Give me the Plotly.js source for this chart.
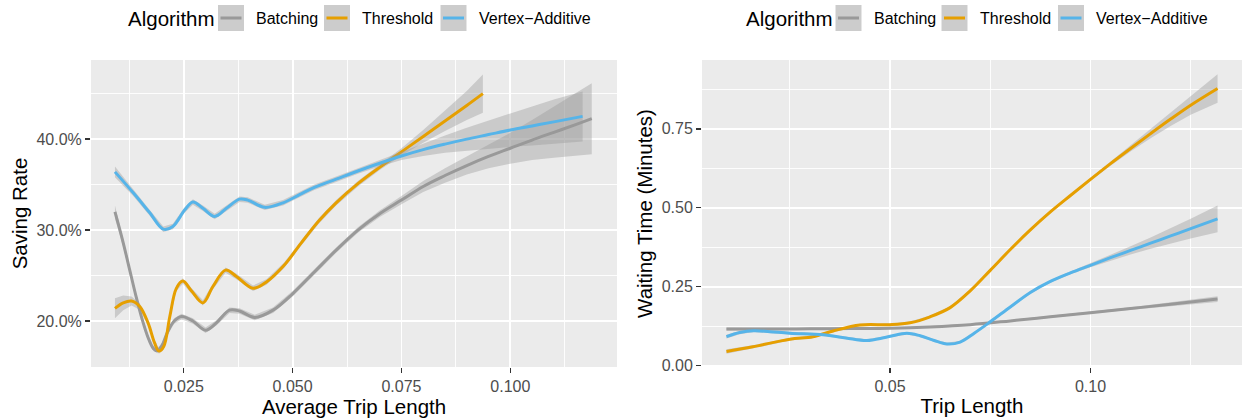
<!DOCTYPE html>
<html>
<head>
<meta charset="utf-8">
<script src="https://cdn.plot.ly/plotly-3.0.1.min.js"></script>
<style>html,body{margin:0;padding:0;background:#fff;}#chart{width:1243px;height:418px;}</style>
</head>
<body>
<div id="chart"></div>
<script>
// ---------- DATA ----------
const categories = ["Batching", "Threshold", "Vertex\u2212Additive"];
const legendTitle = "Algorithm";

// Left panel: Saving Rate (%) vs Average Trip Length
const batchL_x = [0.0092,0.0110,0.0125,0.0140,0.0155,0.0168,0.0180,0.0190,0.0200,0.0212,0.0228,0.0245,0.0271,0.0300,0.0325,0.0355,0.0378,0.0413,0.0455,0.0500,0.0550,0.0600,0.0650,0.0700,0.0750,0.0800,0.0850,0.0900,0.0950,0.1000,0.1050,0.1100,0.1150,0.1187];
const batchL_y = [32.0,28.8,25.8,22.8,20.1,18.2,17.0,16.75,17.3,18.7,20.0,20.5,20.0,19.0,19.8,21.2,21.1,20.4,21.2,23.0,25.4,27.8,30.0,31.8,33.3,34.8,36.0,37.1,38.1,39.0,39.9,40.75,41.6,42.25];
const batchL_se = [0.7,0.5,0.4,0.35,0.3,0.3,0.3,0.3,0.3,0.3,0.3,0.3,0.3,0.3,0.3,0.3,0.3,0.3,0.3,0.3,0.3,0.3,0.3,0.35,0.45,0.6,0.8,1.0,1.3,1.7,2.2,2.8,3.4,3.9];

const threshL_x = [0.0092,0.0111,0.0130,0.0149,0.0168,0.0183,0.0193,0.0204,0.0218,0.0233,0.0248,0.0268,0.0294,0.0317,0.0346,0.0371,0.0409,0.0440,0.0480,0.0520,0.0560,0.0600,0.0650,0.0700,0.0750,0.0800,0.0850,0.0900,0.0937];
const threshL_y = [21.4,22.0,22.2,21.6,19.8,17.6,16.7,17.2,20.5,23.6,24.4,23.3,22.0,23.8,25.6,24.9,23.6,24.3,26.1,28.6,31.0,33.0,35.1,36.9,38.6,40.3,42.0,43.7,45.0];
const threshL_se = [1.1,0.8,0.5,0.35,0.3,0.3,0.3,0.3,0.3,0.3,0.3,0.3,0.3,0.3,0.3,0.3,0.3,0.3,0.3,0.3,0.3,0.3,0.3,0.3,0.4,0.7,1.1,1.6,2.1];

const vertexL_x = [0.0092,0.0134,0.0172,0.0203,0.0225,0.0252,0.0271,0.0294,0.0321,0.0348,0.0378,0.0397,0.0436,0.0478,0.0516,0.0550,0.0600,0.0650,0.0700,0.0750,0.0800,0.0850,0.0900,0.0950,0.1000,0.1050,0.1100,0.1166];
const vertexL_y = [36.4,34.1,31.9,30.1,30.4,32.2,33.1,32.4,31.5,32.4,33.4,33.3,32.5,33.0,33.9,34.7,35.6,36.5,37.35,38.15,38.85,39.45,40.0,40.5,41.0,41.45,41.9,42.5];
const vertexL_se = [0.6,0.35,0.3,0.3,0.3,0.3,0.3,0.3,0.3,0.3,0.3,0.3,0.3,0.3,0.3,0.3,0.3,0.3,0.35,0.45,0.7,0.95,1.25,1.55,1.85,2.15,2.45,2.75];

// Right panel: Waiting Time (Minutes) vs Trip Length
const batchR_x = [0.0092,0.0200,0.0300,0.0400,0.0500,0.0600,0.0700,0.0800,0.0900,0.1000,0.1100,0.1200,0.1317];
const batchR_y = [0.116,0.116,0.117,0.118,0.119,0.123,0.130,0.142,0.155,0.168,0.181,0.195,0.211];
const batchR_se = [0.005,0.004,0.003,0.003,0.003,0.003,0.003,0.003,0.003,0.003,0.004,0.006,0.009];

const threshR_x = [0.0092,0.0158,0.0250,0.0308,0.0358,0.0425,0.0500,0.0550,0.0600,0.0650,0.0700,0.0750,0.0800,0.0850,0.0900,0.0950,0.1000,0.1050,0.1100,0.1150,0.1200,0.1250,0.1317];
const threshR_y = [0.045,0.060,0.084,0.092,0.110,0.129,0.130,0.136,0.155,0.184,0.237,0.302,0.368,0.430,0.487,0.539,0.590,0.640,0.688,0.735,0.781,0.825,0.878];
const threshR_se = [0.007,0.005,0.004,0.004,0.004,0.004,0.004,0.004,0.004,0.004,0.004,0.004,0.004,0.004,0.004,0.004,0.005,0.007,0.010,0.015,0.022,0.030,0.045];

const vertexR_x = [0.0092,0.0125,0.0160,0.0200,0.0250,0.0333,0.0390,0.0442,0.0490,0.0542,0.0575,0.0610,0.0642,0.0675,0.0710,0.0750,0.0800,0.0850,0.0900,0.0950,0.1000,0.1050,0.1100,0.1150,0.1200,0.1250,0.1317];
const vertexR_y = [0.092,0.105,0.111,0.108,0.103,0.098,0.088,0.080,0.090,0.103,0.095,0.080,0.069,0.075,0.103,0.139,0.186,0.232,0.267,0.294,0.318,0.342,0.365,0.388,0.411,0.434,0.465];
const vertexR_se = [0.006,0.005,0.004,0.004,0.004,0.004,0.004,0.004,0.004,0.004,0.004,0.004,0.004,0.004,0.004,0.004,0.004,0.004,0.004,0.004,0.006,0.009,0.013,0.018,0.024,0.031,0.042];

const leftTicks = [0.025, 0.050, 0.075, 0.100];
const leftTickText = ["0.025", "0.050", "0.075", "0.100"];
const leftYTicks = [20, 30, 40];
const leftYTickText = ["20.0%", "30.0%", "40.0%"];
const rightTicks = [0.05, 0.10];
const rightTickText = ["0.05", "0.10"];
const rightYTicks = [0, 0.25, 0.5, 0.75];
const rightYTickText = ["0.00", "0.25", "0.50", "0.75"];

// ---------- STYLE ----------
const colors = ["#999999", "#E69F00", "#56B4E9"];
const ribbonColor = "rgba(153,153,153,0.4)";
const FONT = "'Liberation Sans', Arial, Helvetica, sans-serif";
const W = 1243, H = 418;

const panels = [
  {xa: "x", ya: "y", series: [[batchL_x, batchL_y, batchL_se], [threshL_x, threshL_y, threshL_se], [vertexL_x, vertexL_y, vertexL_se]]},
  {xa: "x2", ya: "y2", series: [[batchR_x, batchR_y, batchR_se], [threshR_x, threshR_y, threshR_se], [vertexR_x, vertexR_y, vertexR_se]]}
];

const traces = [];
panels.forEach(p => {
  p.series.forEach((s, i) => {
    const [xs, ys, se] = s;
    const up = ys.map((v, k) => v + se[k]);
    const lo = ys.map((v, k) => v - se[k]);
    traces.push({
      type: "scatter", mode: "lines", xaxis: p.xa, yaxis: p.ya,
      x: xs.concat(xs.slice().reverse()),
      y: up.concat(lo.slice().reverse()),
      fill: "toself", fillcolor: ribbonColor,
      line: {width: 0, color: ribbonColor}, hoverinfo: "skip", showlegend: false
    });
    traces.push({
      type: "scatter", mode: "lines", xaxis: p.xa, yaxis: p.ya,
      x: xs, y: ys, name: categories[i],
      line: {color: colors[i], width: 3, shape: "spline", smoothing: 1},
      showlegend: false
    });
  });
});

const yDom = [1 - 367 / H, 1 - 60 / H];
const common = {
  showgrid: true, gridcolor: "#FFFFFF", gridwidth: 1.8, zeroline: false, showline: false,
  ticks: "outside", ticklen: 5, tickwidth: 1.3, tickcolor: "#333333",
  tickfont: {family: FONT, size: 16, color: "#4D4D4D"},
  fixedrange: true
};
const titleFont = {family: FONT, size: 20.5, color: "#000000"};

const layout = {
  width: W, height: H,
  margin: {l: 0, r: 0, t: 0, b: 0},
  paper_bgcolor: "#FFFFFF", plot_bgcolor: "#EBEBEB",
  showlegend: false, hovermode: false,
  xaxis: Object.assign({}, common, {
    domain: [91 / W, 617 / W], range: [0.0037, 0.1245], anchor: "y",
    tickmode: "array", tickvals: leftTicks, ticktext: leftTickText,
    minor: {dtick: 0.0125, tick0: 0, showgrid: true, gridcolor: "#FFFFFF", gridwidth: 0.9, ticks: ""},
    title: {text: "Average Trip Length", font: titleFont, standoff: 4}
  }),
  yaxis: Object.assign({}, common, {
    domain: yDom, range: [14.95, 48.7], anchor: "x",
    tickmode: "array", tickvals: leftYTicks, ticktext: leftYTickText,
    minor: {dtick: 5, tick0: 0, showgrid: true, gridcolor: "#FFFFFF", gridwidth: 0.9, ticks: ""},
    title: {text: "Saving Rate", font: titleFont, standoff: 3}
  }),
  xaxis2: Object.assign({}, common, {
    domain: [702 / W, 1242 / W], range: [0.0031, 0.1378], anchor: "y2",
    tickmode: "array", tickvals: rightTicks, ticktext: rightTickText,
    minor: {dtick: 0.025, tick0: 0, showgrid: true, gridcolor: "#FFFFFF", gridwidth: 0.9, ticks: ""},
    title: {text: "Trip Length", font: titleFont, standoff: 4}
  }),
  yaxis2: Object.assign({}, common, {
    domain: yDom, range: [-0.004, 0.968], anchor: "x2",
    tickmode: "array", tickvals: rightYTicks, ticktext: rightYTickText,
    minor: {dtick: 0.125, tick0: 0, showgrid: true, gridcolor: "#FFFFFF", gridwidth: 0.9, ticks: ""},
    title: {text: "Waiting Time (Minutes)", font: titleFont, standoff: 3}
  }),
  shapes: [], annotations: []
};

// ---------- manual ggplot-style legends ----------
const legendOrigins = [126, 743.5];           // left x of "Algorithm" per panel (px)
const keyOffsets = [92, 198, 314.5];          // key box left offsets from origin (px)
const labelOffsets = [128, 234, 350.5];       // label left offsets from origin (px)
const keySize = 26, legendCY = 18;
const px = v => v / W, py = v => 1 - v / H;
legendOrigins.forEach(o => {
  layout.annotations.push({
    xref: "paper", yref: "paper", x: px(o), y: py(legendCY), xanchor: "left", yanchor: "middle",
    text: legendTitle, showarrow: false, font: {family: FONT, size: 20.5, color: "#000"}
  });
  categories.forEach((c, i) => {
    const kx = o + keyOffsets[i];
    layout.shapes.push({type: "rect", xref: "paper", yref: "paper",
      x0: px(kx), x1: px(kx + keySize), y0: py(legendCY + keySize / 2), y1: py(legendCY - keySize / 2),
      fillcolor: "#CCCCCC", line: {width: 0}});
    layout.shapes.push({type: "line", xref: "paper", yref: "paper",
      x0: px(kx + 2.5), x1: px(kx + keySize - 2.5), y0: py(legendCY), y1: py(legendCY),
      line: {color: colors[i], width: 3}});
    layout.annotations.push({
      xref: "paper", yref: "paper", x: px(o + labelOffsets[i]), y: py(legendCY), xanchor: "left", yanchor: "middle",
      text: c, showarrow: false, font: {family: FONT, size: 16, color: "#000"}
    });
  });
});

Plotly.newPlot("chart", traces, layout, {displayModeBar: false, staticPlot: true});
</script>
</body>
</html>
